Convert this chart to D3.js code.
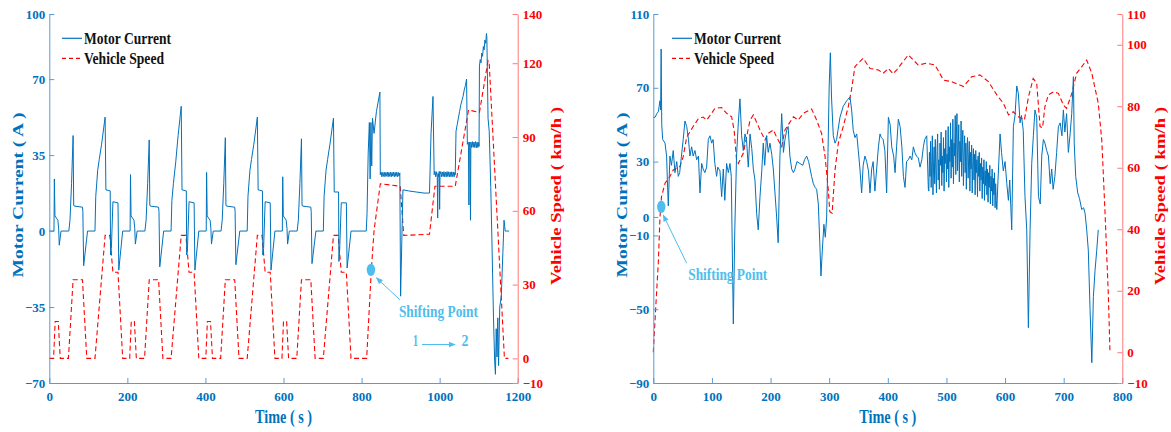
<!DOCTYPE html>
<html>
<head>
<meta charset="utf-8">
<script src="https://cdn.jsdelivr.net/npm/d3@7"></script>
<style>
  body { margin: 0; background: #fff; }
  svg { display: block; }
  text { font-family: "Liberation Serif", "Times New Roman", serif; font-weight: bold; }
</style>
</head>
<body>
<svg id="chart" width="1171" height="432"></svg>
<script>
// ---------- NEDC test cycle (left panel) ----------
const nedcTicksX = [0, 200, 400, 600, 800, 1000, 1200];
const nedcTicksCurrent = [100, 70, 35, 0, -35, -70];
const nedcTicksSpeed = [140, 120, 90, 60, 30, 0, -10];

// vehicle speed [time s, km/h]
const nedcSpeed = [
  [0,0],[11,0],[15,15],[23,15],[28,0],[49,0],[61,32],[85,32],[96,0],[117,0],[143,50],[155,50],[163,35],[176,35],[188,0],[195,0],
  [206,0],[210,15],[218,15],[223,0],[244,0],[256,32],[280,32],[291,0],[312,0],[338,50],[350,50],[358,35],[371,35],[383,0],[390,0],
  [401,0],[405,15],[413,15],[418,0],[439,0],[451,32],[475,32],[486,0],[507,0],[533,50],[545,50],[553,35],[566,35],[578,0],[585,0],
  [596,0],[600,15],[608,15],[613,0],[634,0],[646,32],[670,32],[681,0],[702,0],[728,50],[740,50],[748,35],[761,35],[773,0],[780,0],
  [813,0],[825,36],[832,52],[848,71],[899,70],[908,50],[974,50.5],[988,70],[1040,70],[1074,101],[1102,100],[1124,121],[1127,120],[1166,0],[1176,0]
];

// motor current [time s, A]
const nedcCurrent = [
  [0,0],[12,0],[13,24],[14.5,7],[18,6],[22,5],[24,1],[25.5,-6.5],[30,0],[50,0],[53,5],[57,22],[61,44],[62.5,12],[64,11.5],[85,11],[86,9],[88,-16],[98,0],[117,0],[119,16],[124,28],[128,33],[134,40],[143,52.5],[145,19],[156,18.5],[157,-11],[159,-8],[163,13.5],[176,13],[178,-18],[188,0],
  [207,0],[208,26],[209.5,7],[213,6],[217,5],[219,1],[220.5,-6],[225,0],[245,0],[248,5],[252,22],[256,42],[257.5,12],[259,11.5],[280,11],[281,9],[283,-16.5],[293,0],[312,0],[314,14],[318,22],[324,32],[330,44],[338,57.5],[340,19],[351,18.5],[352,-11],[354,-8],[358,13.5],[371,13],[373,-18],[383,0],
  [402,0],[403,27],[404.5,7],[408,6],[412,5],[414,1],[415.5,-6],[420,0],[440,0],[443,5],[447,22],[451,43],[452.5,12],[454,11.5],[475,11],[476,9],[478,-15.5],[488,0],[507,0],[509,16],[514,28],[518,33],[524,40],[533,52.5],[535,19],[546,18.5],[547,-11],[549,-8],[553,13.5],[566,13],[568,-18],[578,0],
  [597,0],[598,25],[599.5,7],[603,6],[607,5],[609,1],[610.5,-6],[615,0],[635,0],[638,5],[642,22],[646,42.5],[647.5,12],[649,11.5],[670,11],[671,9],[673,-15],[683,0],[702,0],[704,16],[709,28],[713,33],[719,40],[728,52],[730,18],[741,18],[742,-14],[744,-8],[748,13],[761,13],[763,-17],[773,0],
  [812,0],[814,8],[817,36],[820,50],[822,24],[824,50],[826,30],[828,52],[832,45],[838,55],[847,64],
  [848,26],[850,27.2],[852,25],[854,27],[856,25.2],[858,27.1],[860,25],[862,27],[864,25.3],[866,27.2],[868,25],[870,27],[872,25.2],[874,27.1],[876,25],[878,27],[880,25.3],[882,27.2],[884,25],[886,27],[888,25.2],[890,27.1],[892,25],[894,27],[896,25.3],[898,26.8],
  [900,-30],[906,19],[920,18.5],[940,18],[960,17.5],[974,17.5],[978,45],[983,62],
  [986,26],[988,27.5],[990,25],[992,27.3],[994,25],[995,6],[996,26.5],[998,25],[999,27.5],[1000,10],[1001,26],[1003,27.4],[1005,25],[1007,27.2],[1009,25.1],[1011,27.4],[1013,25],[1015,27.2],[1017,25],[1019,27.4],[1021,25.1],[1023,27.3],[1025,25],[1027,27.2],[1029,25],[1031,27.3],[1033,25.1],[1035,27.2],[1037,25],[1039,27],
  [1040,26],[1042,46],[1045,49],[1048,52],[1051,55],[1054,58],[1057,60],[1060,62],[1063,65],[1066,67],[1069,70],
  [1071,40],[1073,41],[1074,38.5],[1075,12],[1076,41],[1078,38.5],[1079,5],[1080,41],[1082,38.5],[1084,41.2],[1086,38.6],[1088,41],[1090,38.5],[1092,41.2],[1094,38.4],[1096,41],[1098,38.5],[1100,40.8],[1101,39],
  [1102,76],[1104,79],[1106,77.5],[1108,82],[1110,80.5],[1112,85],[1114,83.5],[1116,88],[1118,86.5],[1120,91],[1121,89],
  [1124,52],[1127,46],[1131,20],[1134,-5],[1138,-40],[1141,-60],[1143,-66],[1145,-45],[1147,-58],[1149,-40],[1151,-62],[1154,-35],[1158,-30],[1162,-10],[1165,5],[1168,0],[1178,0]
];

// ---------- real road drive (right panel) ----------
const roadTicksX = [0, 100, 200, 300, 400, 500, 600, 700, 800];
const roadTicksCurrent = [110, 70, 30, 0, -10, -50, -90];
const roadTicksSpeed = [110, 100, 80, 60, 40, 20, 0, -10];

const roadSpeed = [
  [0,0],[4,14],[8.5,29],[11.4,44],[14,50.6],[20,55],[28,57],[34,59.3],[45.5,60.4],[51,63.6],[57,70],[68,73.4],[77,76],[85,76.5],[91,75.5],[99.5,77.7],[105,79.3],[116.6,79.6],[125,77.7],[133.6,76.6],[138,72],[142,62.5],[145,61.4],[153.5,64.7],[165,75.5],[170.6,77.2],[182,72.3],[190.5,69],[196,71.2],[204.7,72.3],[210,70.1],[219,66.9],[224.6,72.3],[232,74.5],[239,76.6],[247,75.5],[256,77.7],[270,79.1],[278.6,75.5],[287,71.2],[293,63.6],[298.5,52.8],[301,45.7],[305,45.2],[310,59.3],[315.6,68],[324,73.4],[332.6,79.9],[338,85.3],[344,92.9],[352.5,94.5],[358,95.6],[369.6,92.3],[384,91.8],[392,90.7],[401,92.3],[409,90.5],[416,92],[424,94],[435,96.7],[452,93.4],[466.4,94],[480.6,93.4],[495,88.5],[509,88],[529,86.4],[543,89.6],[557,90.2],[571.6,88],[586,83.7],[597,81],[606,77.2],[614,78.2],[622.8,76.6],[633,75.5],[640,83.1],[648,89],[654,87.5],[659.7,73.4],[664,73],[668,79.9],[674,83.7],[682.5,84.7],[691,84.2],[699.5,80.4],[705,79.3],[714,84.2],[722,90.7],[731,92.9],[739.3,95],[748,90.7],[759,81],[765,69],[770.6,45.2],[776.3,18],[779,0]
];

const roadCurrent = [
  [0,54],[3,54],[6,56],[8.5,57],[10,60],[11.4,63],[12.5,58],[13.4,91],[14.4,50],[16,42],[20,40],[22.7,33],[24,20],[25.6,6],[27,20],[28.4,33],[31,28],[34,36],[37,24],[40,30],[42.6,22],[45,24],[48,33],[51,42],[54,52],[57,49],[60,42],[62.5,33],[65.4,38],[68,33],[71,36],[74,31],[77,33],[79.6,13],[82.5,29],[85,26],[88,24],[91,27],[93.8,42],[96.7,44],[99.5,40],[102,42],[105,29],[108,22],[110,27],[113.7,25],[116.6,11],[119.4,26],[122,9],[125,29],[128,24],[130.8,29],[133,22],[136.5,-58],[139,-7],[142,33],[145,51],[147.8,64],[150.7,44],[153.5,36],[156.4,45],[159,42],[162,27],[165,45],[168,37],[170.6,26],[173.4,20],[176.3,2],[179,-7],[182,11],[185,25],[187.6,40],[190,28],[193.3,44],[196,35],[199,40],[202,34],[204.7,26],[210.4,0],[213,-14],[216,33],[219,56],[222,35],[224.6,42],[227.5,47],[230,49],[233,33],[236,26],[239,24],[241.7,26],[245,30],[250,29],[255,28],[258,31],[261.6,33],[265,30],[270,22],[273,18],[276,16],[278.6,15],[281.5,7],[284,-14],[286,-32],[288.3,-18],[291,-4],[293.4,-11],[295.7,0],[298,35],[300,71],[302,89],[304,65],[307,44],[310,40],[312.7,42],[315,47],[318.4,54],[324,60],[330,63],[335.5,65],[338.3,58],[341,47],[344,43],[347,45],[349.7,36],[352.5,26],[355.4,13],[358,28],[361,33],[364,30],[367,25],[369.6,13],[372.5,26],[375,30],[378,14],[381,26],[384,38],[386.7,45],[389,43],[392,42],[395,36],[398,13],[401,54],[404,50],[406.7,38],[410,33],[412.4,24],[415,38],[418,53],[421,49],[424,38],[426.6,22],[429.4,16],[432,30],[435,31],[438,33],[441,31],[443.6,38],[446,35],[449,33],[452,32],[455,27],[458,31],[460.7,38],[463,42],[466.4,44],[469.2,15],
  [470,14],[471,35],[472,22],[473,41],[474,16],[475,30],[476,44],[477,12],[478,27],[479,38],[480,18],[481,42],[482,25],[483,13],[484,36],[485,45],[486,20],[487,31],[488,15],[489,40],[490,28],[491,46],[492,17],[493,33],[494,24],[495,43],[496,14],[497,37],[498,29],[499,47],
  [500,19],[501,34],[502,26],[503,49],[504,16],[505,38],[506,30],[507,51],[508,21],[509,42],[510,27],[511,53],[512,18],[513,40],[514,33],[515,55],[516,23],[517,45],[518,56],[519,25],[520,36],[521,50],[522,19],[523,41],[524,30],[525,52],[526,22],[527,38],[528,47],[529,17],
  [530,34],[531,44],[532,24],[533,40],[534,15],[535,37],[536,43],[537,21],[538,32],[539,41],[540,14],[541,35],[542,26],[543,39],[544,13],[545,30],[546,37],[547,20],[548,34],[549,12],[550,36],[551,24],[552,31],[553,11],[554,33],[555,22],[556,35],[557,14],[558,29],[559,20],
  [560,32],[561,10],[562,27],[563,18],[564,31],[565,9],[566,25],[567,17],[568,30],[569,12],[570,26],[571,8],[572,24],[573,16],[574,28],[575,7],[576,22],[577,14],[578,26],[579,6],[580,21],[581,12],[582,24],[583,5],[584,18],[585,9],[586,4],
  [588,20],[591.5,45],[594,35],[597,25],[600,30],[603,18],[605.7,9],[608,20],[611.4,-7],[614.2,49],[617,55],[620,71],[622.7,67],[625.6,51],[628,55],[631,47],[634,11],[637,-7],[639.8,-60],[642.7,-7],[645.5,29],[648.3,44],[651,58],[654,54],[657,11],[660,7],[662.6,33],[665.4,42],[668,40],[671,36],[674,33],[677,18],[679.6,26],[682,15],[685,22],[688,35],[691,49],[694,51],[697,44],[699.5,58],[702,46],[705,56],[708,35],[711,45],[713.7,56],[716.6,76],[718,40],[720.5,22],[724,13],[727,10],[730.8,4],[734,5],[736.5,2],[739.3,-7],[742,-18],[745,-50],[748,-79],[750.7,-43],[753.5,-29],[756.4,-18],[759,-7]
];

// gear shift markers [time s, km/h]
const nedcShift = [824, 36];
const roadShift = [13.6, 47.3];

const BLUE = "#0072BD";
const RED = "#FF0000";
const CYAN = "#4DBEEE";

const svg = d3.select("#chart");

svg.append("defs").append("marker")
  .attr("id", "arrowHead")
  .attr("viewBox", "0 0 10 10")
  .attr("refX", 9).attr("refY", 5)
  .attr("markerWidth", 7).attr("markerHeight", 7)
  .attr("markerUnits", "userSpaceOnUse")
  .attr("orient", "auto")
  .append("path").attr("d", "M0,1 L10,5 L0,9 Z").attr("fill", CYAN);

function drawPanel(p) {
  const x = d3.scaleLinear().domain(d3.extent(p.ticksX)).range([p.left, p.right]);
  const yL = d3.scaleLinear().domain(d3.extent(p.ticksCurrent)).range([p.bottom, p.top]);
  const yR = d3.scaleLinear().domain(d3.extent(p.ticksSpeed)).range([p.bottom, p.top]);
  const g = svg.append("g");

  // speed (dashed red) under current (solid blue)
  g.append("path").datum(p.speed)
    .attr("fill", "none").attr("stroke", RED).attr("stroke-width", 1.1)
    .attr("stroke-dasharray", "5,3")
    .attr("d", d3.line().x(d => x(d[0])).y(d => yR(d[1])));

  g.append("path").datum(p.current)
    .attr("fill", "none").attr("stroke", BLUE).attr("stroke-width", 1)
    .attr("stroke-linejoin", "round")
    .attr("d", d3.line().x(d => x(d[0])).y(d => yL(d[1])));

  // axes with inward ticks
  const styleAxis = (sel, color, lineColor) => {
    sel.select(".domain").attr("stroke", lineColor).attr("stroke-width", 1);
    sel.selectAll(".tick line").attr("stroke", lineColor).attr("stroke-width", 1);
    sel.selectAll(".tick text").attr("fill", color)
      .style("font-family", '"Liberation Serif", serif').style("font-weight", "bold").style("font-size", "13px");
  };

  g.append("g").attr("transform", `translate(0,${p.bottom})`)
    .call(d3.axisBottom(x).tickValues(p.ticksX).tickFormat(d3.format("d")).tickSizeInner(-5).tickSizeOuter(0).tickPadding(9))
    .call(s => styleAxis(s, BLUE, "#5b9bd5"));

  g.append("g").attr("transform", `translate(${p.left},0)`)
    .call(d3.axisLeft(yL).tickValues(p.ticksCurrent).tickFormat(d3.format("d")).tickSizeInner(-5).tickSizeOuter(0).tickPadding(4))
    .call(s => styleAxis(s, BLUE, "#5b9bd5"));

  g.append("g").attr("transform", `translate(${p.right},0)`)
    .call(d3.axisRight(yR).tickValues(p.ticksSpeed).tickFormat(d3.format("d")).tickSizeInner(-5).tickSizeOuter(0).tickPadding(5))
    .call(s => styleAxis(s, RED, "#ff7a7a"));

  // axis titles
  g.append("text")
    .attr("transform", `translate(${(p.left + p.right) / 2},423)`)
    .attr("text-anchor", "middle").attr("fill", BLUE).style("font-size", "18px")
    .attr("textLength", 57).attr("lengthAdjust", "spacingAndGlyphs")
    .text("Time ( s )");

  g.append("text")
    .attr("transform", `translate(${p.left - 31.5},195) rotate(-90) scale(1,0.8)`)
    .attr("text-anchor", "middle").attr("dy", "0.35em").attr("fill", BLUE).style("font-size", "18.5px")
    .attr("textLength", 165).attr("lengthAdjust", "spacingAndGlyphs")
    .text("Motor Current ( A )");

  g.append("text")
    .attr("transform", `translate(${p.right + 38},196) rotate(-90) scale(1,0.8)`)
    .attr("text-anchor", "middle").attr("dy", "0.35em").attr("fill", RED).style("font-size", "18.5px")
    .attr("textLength", 178).attr("lengthAdjust", "spacingAndGlyphs")
    .text("Vehicle Speed ( km/h )");

  // legend
  const lx = p.legendX, ly = 38.3;
  g.append("line").attr("x1", lx).attr("x2", lx + 20).attr("y1", ly).attr("y2", ly)
    .attr("stroke", BLUE).attr("stroke-width", 1.2);
  g.append("line").attr("x1", lx).attr("x2", lx + 20).attr("y1", ly + 20).attr("y2", ly + 20)
    .attr("stroke", RED).attr("stroke-width", 1.2).attr("stroke-dasharray", "4,3");
  g.append("text").attr("x", lx + 22).attr("y", ly + 5.2).attr("fill", "#111").style("font-size", "17px")
    .attr("textLength", 87).attr("lengthAdjust", "spacingAndGlyphs").text("Motor Current");
  g.append("text").attr("x", lx + 22).attr("y", ly + 25.2).attr("fill", "#111").style("font-size", "17px")
    .attr("textLength", 80).attr("lengthAdjust", "spacingAndGlyphs").text("Vehicle Speed");

  // shift point annotation
  const cx = x(p.shift[0]), cy = yR(p.shift[1]);
  g.append("ellipse").attr("cx", cx).attr("cy", cy).attr("rx", 4.2).attr("ry", 6.2).attr("fill", CYAN);
  g.append("line")
    .attr("x1", cx + p.arrowTail[0]).attr("y1", cy + p.arrowTail[1])
    .attr("x2", cx + p.arrowTip[0]).attr("y2", cy + p.arrowTip[1])
    .attr("stroke", CYAN).attr("stroke-width", 1).attr("marker-end", "url(#arrowHead)");
  g.append("text").attr("x", cx + p.labelAt[0]).attr("y", cy + p.labelAt[1])
    .attr("fill", CYAN).style("font-size", "17px")
    .attr("textLength", 79).attr("lengthAdjust", "spacingAndGlyphs").text("Shifting Point");

  return { g, x, yL, yR, cx, cy };
}

const left = drawPanel({
  ticksX: nedcTicksX, ticksCurrent: nedcTicksCurrent, ticksSpeed: nedcTicksSpeed,
  speed: nedcSpeed, current: nedcCurrent, shift: nedcShift,
  left: 49.3, right: 517.7, top: 14, bottom: 383,
  legendX: 62,
  arrowTail: [29, 30], arrowTip: [5.5, 8], labelAt: [28, 47]
});

// gear change note 1 -> 2
left.g.append("text").attr("x", 413).attr("y", 346).attr("fill", CYAN).style("font-size", "16px")
  .attr("textLength", 5).attr("lengthAdjust", "spacingAndGlyphs").text("1");
left.g.append("line").attr("x1", 422).attr("x2", 455).attr("y1", 344.5).attr("y2", 344.5)
  .attr("stroke", CYAN).attr("stroke-width", 1).attr("marker-end", "url(#arrowHead)");
left.g.append("text").attr("x", 461.5).attr("y", 346).attr("fill", CYAN).style("font-size", "16px")
  .attr("textLength", 7).attr("lengthAdjust", "spacingAndGlyphs").text("2");

drawPanel({
  ticksX: roadTicksX, ticksCurrent: roadTicksCurrent, ticksSpeed: roadTicksSpeed,
  speed: roadSpeed, current: roadCurrent, shift: roadShift,
  left: 653.3, right: 1122.3, top: 14, bottom: 383,
  legendX: 672,
  arrowTail: [25.4, 56.5], arrowTip: [2, 8.3], labelAt: [27, 73]
});
</script>
</body>
</html>
